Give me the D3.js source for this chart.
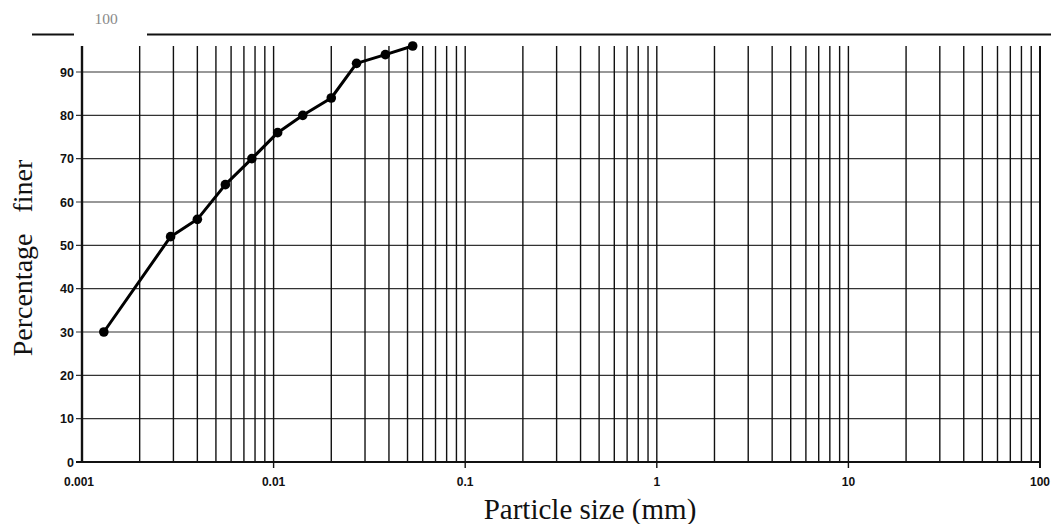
<!DOCTYPE html>
<html>
<head>
<meta charset="utf-8">
<script src="https://cdn.jsdelivr.net/npm/d3@7"></script>
<style>
  html, body { margin: 0; padding: 0; background: #fff; }
  svg { display: block; }
</style>
</head>
<body>
<svg id="chart" width="1051" height="524"></svg>
<script>
// Grain size distribution (hydrometer / sieve analysis)
const particleSize = [0.0013, 0.0029, 0.004, 0.0056, 0.0077, 0.0105, 0.0142, 0.02, 0.0271, 0.0383, 0.0532];
const percentFiner = [30, 52, 56, 64, 70, 76, 80, 84, 92, 94, 96];

const xTickValues = [0.001, 0.01, 0.1, 1, 10, 100];
const xTickLabels = ["0.001", "0.01", "0.1", "1", "10", "100"];
const yTickValues = [0, 10, 20, 30, 40, 50, 60, 70, 80, 90];
const yTopLabel = "100";
const xTitle = "Particle size (mm)";
const yTitle = "Percentage\u00a0\u00a0\u00a0finer";

const svg = d3.select("#chart");

const x = d3.scaleLog().domain([0.001, 100]).range([82, 1040]);
const y = d3.scaleLinear().domain([0, 90]).range([462, 72]);
const gridTop = 46;

// minor log gridlines: 1..9 within each decade
const minorVals = [];
for (let e = -3; e < 2; e++) {
  for (let m = 1; m <= 9; m++) minorVals.push(m * Math.pow(10, e));
}
minorVals.push(100);

// horizontal gridlines
svg.append("g")
  .selectAll("line")
  .data(yTickValues)
  .join("line")
  .attr("x1", 76)
  .attr("x2", x(100))
  .attr("y1", d => y(d))
  .attr("y2", d => y(d))
  .attr("stroke", d => d === 0 ? "#111" : "#333")
  .attr("stroke-width", d => d === 0 ? 1.8 : 1.1);

// vertical gridlines
svg.append("g")
  .selectAll("line")
  .data(minorVals)
  .join("line")
  .attr("x1", d => x(d))
  .attr("x2", d => x(d))
  .attr("y1", gridTop)
  .attr("y2", d => xTickValues.includes(d) && d !== 0.001 ? y(0) + 6 : y(0))
  .attr("stroke", "#111")
  .attr("stroke-width", d => (d === 0.001 ? 2.4 : (d === 100 ? 2 : 1.4)));

// y axis labels
svg.append("g")
  .selectAll("text")
  .data(yTickValues)
  .join("text")
  .attr("x", 74)
  .attr("y", d => y(d))
  .attr("dy", "0.36em")
  .attr("text-anchor", "end")
  .attr("font-family", "Liberation Sans, Arial, sans-serif")
  .attr("font-weight", "bold")
  .attr("font-size", 12.5)
  .attr("fill", "#111")
  .text(d => d);

// x axis labels
svg.append("g")
  .selectAll("text")
  .data(xTickValues)
  .join("text")
  .attr("x", d => x(d) - (d === 0.001 ? 3 : 0))
  .attr("y", 486)
  .attr("text-anchor", "middle")
  .attr("font-family", "Liberation Sans, Arial, sans-serif")
  .attr("font-weight", "bold")
  .attr("font-size", 12)
  .attr("fill", "#111")
  .text((d, i) => xTickLabels[i]);

// top frame line, broken around the "100" label
const frame = svg.append("g").attr("stroke", "#111").attr("stroke-width", 2.2);
frame.append("line").attr("x1", 32).attr("x2", 74).attr("y1", 34.5).attr("y2", 34.5);
frame.append("line").attr("x1", 147).attr("x2", 1051).attr("y1", 34.5).attr("y2", 34.5);

svg.append("text")
  .attr("x", 106)
  .attr("y", 24)
  .attr("text-anchor", "middle")
  .attr("font-family", "Liberation Serif, Times New Roman, serif")
  .attr("font-size", 15.5)
  .attr("fill", "#8a8a8a")
  .text(yTopLabel);

// data curve
const pts = particleSize.map((d, i) => [d, percentFiner[i]]);
svg.append("path")
  .datum(pts)
  .attr("fill", "none")
  .attr("stroke", "#000")
  .attr("stroke-width", 3)
  .attr("stroke-linejoin", "round")
  .attr("d", d3.line().x(d => x(d[0])).y(d => y(d[1])));

svg.append("g")
  .selectAll("circle")
  .data(pts)
  .join("circle")
  .attr("cx", d => x(d[0]))
  .attr("cy", d => y(d[1]))
  .attr("r", 4.8)
  .attr("fill", "#000");

// axis titles
svg.append("text")
  .attr("x", 590)
  .attr("y", 519)
  .attr("text-anchor", "middle")
  .attr("font-family", "Liberation Serif, Times New Roman, serif")
  .attr("font-size", 29)
  .attr("fill", "#111")
  .text(xTitle);

svg.append("text")
  .attr("transform", "translate(32,258) rotate(-90)")
  .attr("text-anchor", "middle")
  .attr("font-family", "Liberation Serif, Times New Roman, serif")
  .attr("font-size", 28)
  .attr("fill", "#111")
  .text(yTitle);
</script>
</body>
</html>
